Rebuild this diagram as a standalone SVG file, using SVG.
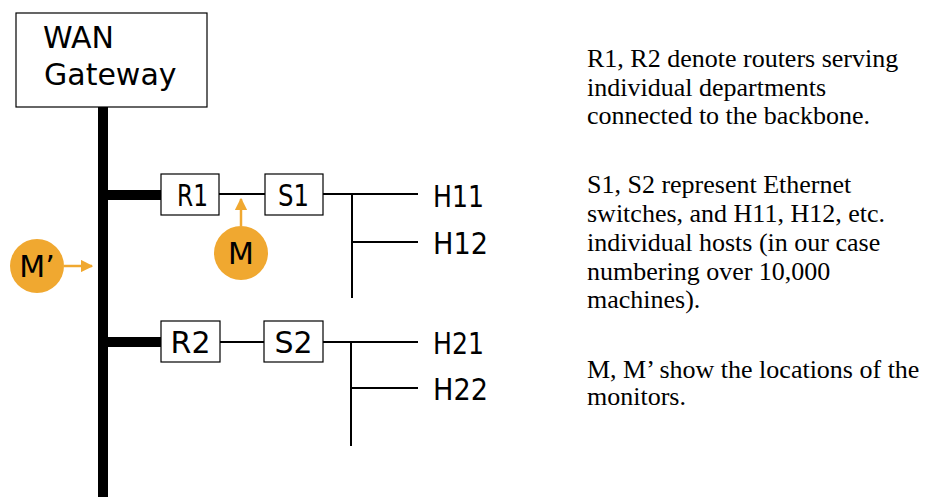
<svg xmlns="http://www.w3.org/2000/svg" width="927" height="497" viewBox="0 0 927 497">
<style>
.box{fill:#fff;stroke:#000;stroke-width:1.2}
.lbl{font-family:"DejaVu Sans",sans-serif;font-size:30px;fill:#000}
.thick{stroke:#000;stroke-width:10;fill:none}
.thin{stroke:#000;stroke-width:2;fill:none}
.mon{fill:#F0A830}
.marr{stroke:#F0A830;stroke-width:2.5;fill:none}
.note{font-family:"Liberation Serif",serif;font-size:26px;fill:#000}
</style>
<defs>
<marker id="oa" viewBox="0 0 10 10" refX="9" refY="5" markerWidth="5" markerHeight="5" markerUnits="strokeWidth" orient="auto">
<path d="M0,0 L10,5 L0,10 z" fill="#F0A830"/>
</marker>
</defs>
<g id="connectors">
<line class="thick" x1="103" y1="107" x2="103" y2="497"/>
<line class="thick" x1="103" y1="195" x2="162" y2="195"/>
<line class="thick" x1="103" y1="342" x2="162" y2="342"/>
<line class="thin" x1="219" y1="194" x2="265" y2="194"/>
<line class="thin" x1="323" y1="194" x2="418" y2="194"/>
<line class="thin" x1="352" y1="194" x2="352" y2="298"/>
<line class="thin" x1="352" y1="242" x2="418" y2="242"/>
<line class="thin" x1="220" y1="342" x2="264" y2="342"/>
<line class="thin" x1="323" y1="342" x2="418" y2="342"/>
<line class="thin" x1="351" y1="342" x2="351" y2="446"/>
<line class="thin" x1="351" y1="388" x2="418" y2="388"/>
<line class="marr" x1="241" y1="226" x2="241" y2="199" marker-end="url(#oa)"/>
<line class="marr" x1="64" y1="266" x2="92" y2="266" marker-end="url(#oa)"/>
</g>
<g id="wan">
<rect class="box" x="16" y="13" width="191" height="94"/>
<text class="lbl" x="43" y="48">WAN</text>
<text class="lbl" x="44" y="85">Gateway</text>
</g>
<g id="r1">
<rect class="box" x="161" y="174" width="58" height="41"/>
<text class="lbl" x="177" y="206" textLength="31" lengthAdjust="spacingAndGlyphs">R1</text>
</g>
<g id="s1">
<rect class="box" x="265" y="174" width="58" height="41"/>
<text class="lbl" x="278" y="206" textLength="31" lengthAdjust="spacingAndGlyphs">S1</text>
</g>
<g id="r2">
<rect class="box" x="161" y="321" width="59" height="41"/>
<text class="lbl" x="190.5" y="353" text-anchor="middle">R2</text>
</g>
<g id="s2">
<rect class="box" x="264" y="321" width="59" height="41"/>
<text class="lbl" x="293.5" y="353" text-anchor="middle">S2</text>
</g>
<g id="h11"><text class="lbl" x="433" y="207" textLength="51" lengthAdjust="spacingAndGlyphs">H11</text></g>
<g id="h12"><text class="lbl" x="433" y="254" textLength="55" lengthAdjust="spacingAndGlyphs">H12</text></g>
<g id="h21"><text class="lbl" x="433" y="354" textLength="51" lengthAdjust="spacingAndGlyphs">H21</text></g>
<g id="h22"><text class="lbl" x="433" y="400" textLength="55" lengthAdjust="spacingAndGlyphs">H22</text></g>
<g id="m">
<circle class="mon" cx="241" cy="253" r="27"/>
<text class="lbl" x="241" y="264" text-anchor="middle">M</text>
</g>
<g id="mprime">
<circle class="mon" cx="37" cy="266" r="27"/>
<text class="lbl" x="37" y="277" text-anchor="middle">M’</text>
</g>
<g id="notes">
<text class="note" x="587" y="67">R1, R2 denote routers serving</text>
<text class="note" x="587" y="95.5">individual departments</text>
<text class="note" x="587" y="124">connected to the backbone.</text>
<text class="note" x="587" y="193">S1, S2 represent Ethernet</text>
<text class="note" x="587" y="222">switches, and H11, H12, etc.</text>
<text class="note" x="587" y="250.5">individual hosts (in our case</text>
<text class="note" x="587" y="279.5">numbering over 10,000</text>
<text class="note" x="587" y="308">machines).</text>
<text class="note" x="587" y="378">M, M’ show the locations of the</text>
<text class="note" x="587" y="405">monitors.</text>
</g>
</svg>
